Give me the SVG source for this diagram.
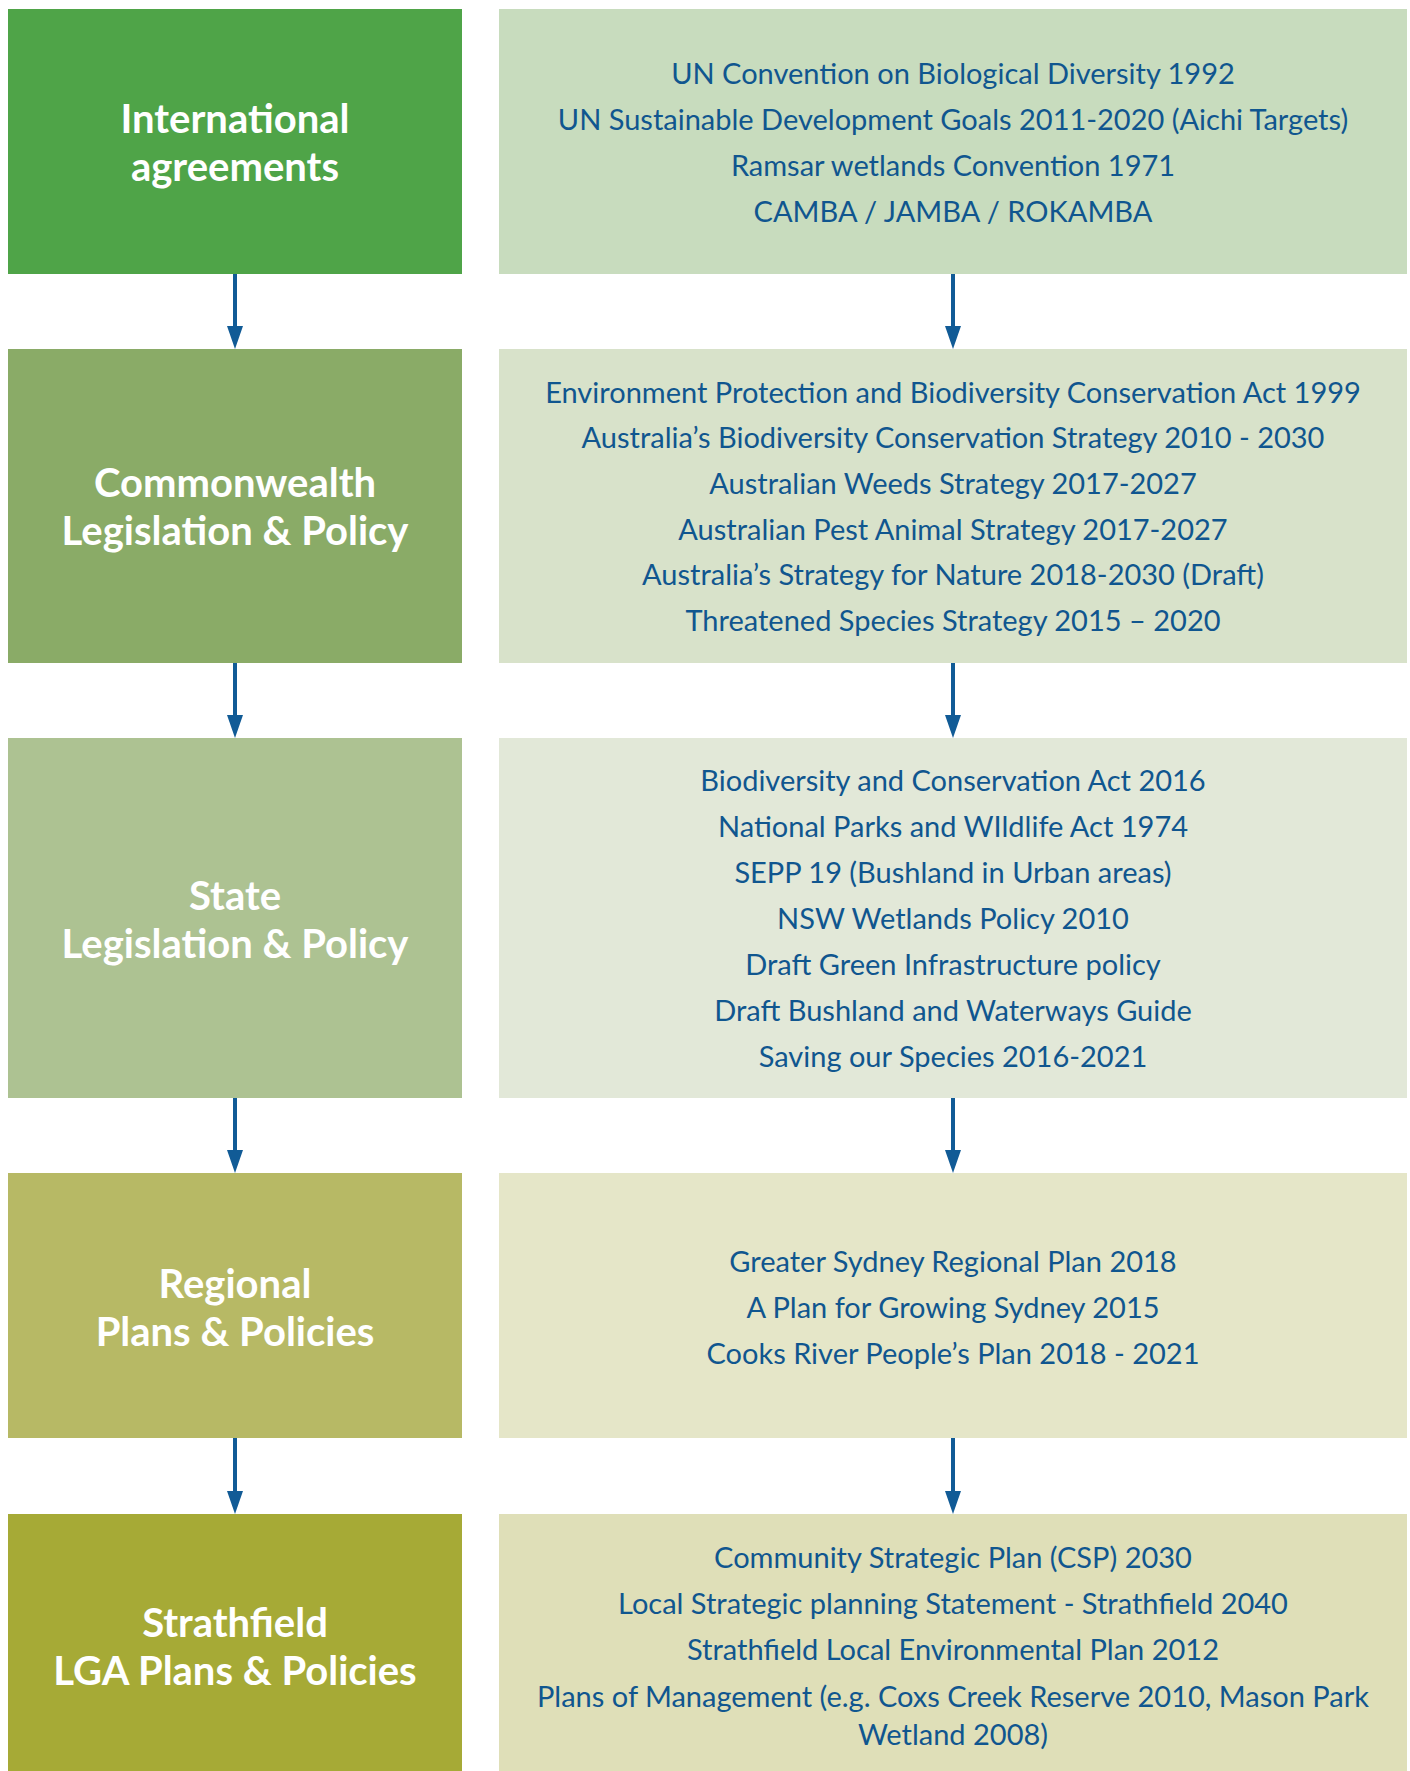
<svg xmlns="http://www.w3.org/2000/svg" width="1410" height="1771" viewBox="0 0 1410 1771">
<style>
.h{font-family:Lato,"Open Sans","Liberation Sans",sans-serif;font-weight:700;font-size:40px;fill:#ffffff;text-anchor:middle}
.t{font-family:Lato,"Open Sans","Liberation Sans",sans-serif;font-size:29px;fill:#10568f;text-anchor:middle}
.ln{stroke:#115b96;stroke-width:4;fill:none}
.ah{fill:#115b96}
</style>
<rect width="1410" height="1771" fill="#ffffff"/>
<g id="intl-head"><rect x="8" y="9" width="454" height="265" fill="#4fa448"/>
<text class="h" x="235" y="133">International</text><text class="h" x="235" y="181">agreements</text></g>
<g id="intl-list"><rect x="499" y="9" width="908" height="265" fill="#c8dcbe"/>
<text class="t" x="953" y="84">UN Convention on Biological Diversity 1992</text>
<text class="t" x="953" y="130">UN Sustainable Development Goals 2011-2020 (Aichi Targets)</text>
<text class="t" x="953" y="176">Ramsar wetlands Convention 1971</text>
<text class="t" x="953" y="222">CAMBA / JAMBA / ROKAMBA</text></g>
<g id="cw-head"><rect x="8" y="349" width="454" height="314" fill="#8aab67"/>
<text class="h" x="235" y="497">Commonwealth</text><text class="h" x="235" y="545">Legislation &amp; Policy</text></g>
<g id="cw-list"><rect x="499" y="349" width="908" height="314" fill="#d8e2ca"/>
<text class="t" x="953" y="403">Environment Protection and Biodiversity Conservation Act 1999</text>
<text class="t" x="953" y="448">Australia’s Biodiversity Conservation Strategy 2010 - 2030</text>
<text class="t" x="953" y="494">Australian Weeds Strategy 2017-2027</text>
<text class="t" x="953" y="540">Australian Pest Animal Strategy 2017-2027</text>
<text class="t" x="953" y="585">Australia’s Strategy for Nature 2018-2030 (Draft)</text>
<text class="t" x="953" y="631">Threatened Species Strategy 2015 – 2020</text></g>
<g id="state-head"><rect x="8" y="738" width="454" height="360" fill="#adc292"/>
<text class="h" x="235" y="910">State</text><text class="h" x="235" y="958">Legislation &amp; Policy</text></g>
<g id="state-list"><rect x="499" y="738" width="908" height="360" fill="#e2e8d8"/>
<text class="t" x="953" y="791">Biodiversity and Conservation Act 2016</text>
<text class="t" x="953" y="837">National Parks and WIldlife Act 1974</text>
<text class="t" x="953" y="883">SEPP 19 (Bushland in Urban areas)</text>
<text class="t" x="953" y="929">NSW Wetlands Policy 2010</text>
<text class="t" x="953" y="975">Draft Green Infrastructure policy</text>
<text class="t" x="953" y="1021">Draft Bushland and Waterways Guide</text>
<text class="t" x="953" y="1067">Saving our Species 2016-2021</text></g>
<g id="reg-head"><rect x="8" y="1173" width="454" height="265" fill="#b7b965"/>
<text class="h" x="235" y="1298">Regional</text><text class="h" x="235" y="1346">Plans &amp; Policies</text></g>
<g id="reg-list"><rect x="499" y="1173" width="908" height="265" fill="#e5e6c8"/>
<text class="t" x="953" y="1272">Greater Sydney Regional Plan 2018</text>
<text class="t" x="953" y="1318">A Plan for Growing Sydney 2015</text>
<text class="t" x="953" y="1364">Cooks River People’s Plan 2018 - 2021</text></g>
<g id="lga-head"><rect x="8" y="1514" width="454" height="257" fill="#a6aa36"/>
<text class="h" x="235" y="1637">Strathfield</text><text class="h" x="235" y="1685">LGA Plans &amp; Policies</text></g>
<g id="lga-list"><rect x="499" y="1514" width="908" height="257" fill="#dfdfb8"/>
<text class="t" x="953" y="1568">Community Strategic Plan (CSP) 2030</text>
<text class="t" x="953" y="1614">Local Strategic planning Statement - Strathfield 2040</text>
<text class="t" x="953" y="1660">Strathfield Local Environmental Plan 2012</text>
<text class="t" x="953" y="1707">Plans of Management (e.g. Coxs Creek Reserve 2010, Mason Park</text>
<text class="t" x="953" y="1745">Wetland 2008)</text></g>
<g id="connectors">
<line class="ln" x1="235" y1="274" x2="235" y2="328"/><polygon class="ah" points="227,326 243,326 235,349"/>
<line class="ln" x1="953" y1="274" x2="953" y2="328"/><polygon class="ah" points="945,326 961,326 953,349"/>
<line class="ln" x1="235" y1="663" x2="235" y2="717"/><polygon class="ah" points="227,715 243,715 235,738"/>
<line class="ln" x1="953" y1="663" x2="953" y2="717"/><polygon class="ah" points="945,715 961,715 953,738"/>
<line class="ln" x1="235" y1="1098" x2="235" y2="1152"/><polygon class="ah" points="227,1150 243,1150 235,1173"/>
<line class="ln" x1="953" y1="1098" x2="953" y2="1152"/><polygon class="ah" points="945,1150 961,1150 953,1173"/>
<line class="ln" x1="235" y1="1438" x2="235" y2="1493"/><polygon class="ah" points="227,1491 243,1491 235,1514"/>
<line class="ln" x1="953" y1="1438" x2="953" y2="1493"/><polygon class="ah" points="945,1491 961,1491 953,1514"/>
</g>
</svg>
